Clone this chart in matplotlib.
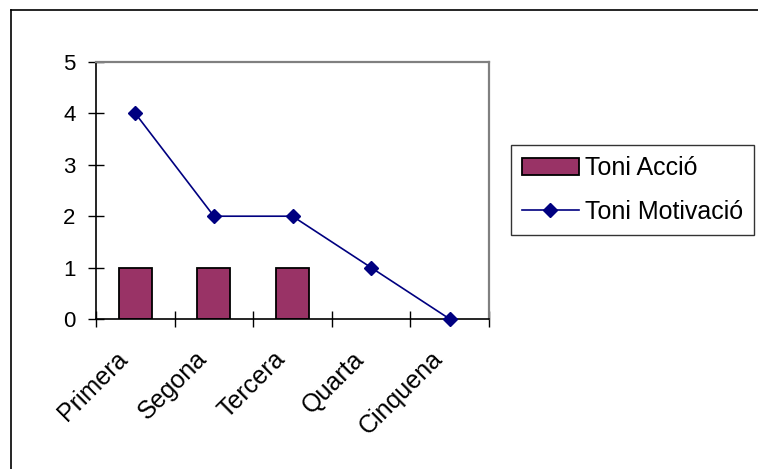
import numpy as np
import matplotlib.pyplot as plt
from matplotlib.lines import Line2D
from matplotlib.transforms import ScaledTranslation

plt.rcParams['font.family'] = ['Liberation Sans', 'DejaVu Sans']

# Dades del gràfic
sessions = ['Primera', 'Segona', 'Tercera', 'Quarta', 'Cinquena']
accio = [1, 1, 1, 0, 0]
motivacio = [4, 2, 2, 1, 0]

fig = plt.figure(figsize=(7.58, 4.69), dpi=100)
ax = fig.add_axes([96/758, 1-319/469, (489-96)/758, (319-62)/469])

x = np.arange(len(sessions))
acc = np.array(accio)
nz = acc > 0  # les barres de zero no es dibuixen
bars = ax.bar(x[nz], acc[nz], width=0.42, color='#993366', edgecolor='black',
              linewidth=1.3, label='Toni Acció', zorder=2)
line, = ax.plot(x, motivacio, color='#000080', linewidth=1.2, marker='D',
                markersize=7.5, label='Toni Motivació', zorder=3, clip_on=False)

ax.set_xlim(-0.5, len(sessions) - 0.5)
ax.set_ylim(0, 5)
ax.set_yticks(range(6))

# marques entre categories, etiquetes al centre
ax.set_xticks(np.arange(-0.5, len(sessions)), labels=[])
ax.tick_params(axis='x', direction='inout', length=11.5, width=1)
ax.tick_params(axis='y', direction='inout', length=11.5, width=1, pad=9, labelsize=16)

off = ax.transData + ScaledTranslation(-8/72, -26/72, fig.dpi_scale_trans)
for xi, name in zip(x, sessions):
    ax.text(xi, 0, name, transform=off, rotation=45, rotation_mode='anchor',
            ha='right', va='center', fontsize=18)

for s in ['left', 'bottom']:
    ax.spines[s].set_color('black')
    ax.spines[s].set_linewidth(1.2)
for s in ['top', 'right']:
    ax.spines[s].set_color('#808080')
    ax.spines[s].set_linewidth(1.6)

leg = fig.legend([bars, line], ['Toni Acció', 'Toni Motivació'], loc='upper left',
                 bbox_to_anchor=(511/758, 1-145/469), fontsize=18,
                 frameon=True, fancybox=False, edgecolor='black', borderpad=0.45,
                 handlelength=2.25, handleheight=0.7, handletextpad=0.25,
                 labelspacing=0.8, borderaxespad=0)
leg.get_frame().set_linewidth(1.0)

# marc exterior
fig.add_artist(Line2D([11/758, 11/758], [0, 1-10/469], color='black', linewidth=1.2))
fig.add_artist(Line2D([11/758, 1], [1-10/469, 1-10/469], color='black', linewidth=1.2))

fig.savefig('out.png', dpi=100)
